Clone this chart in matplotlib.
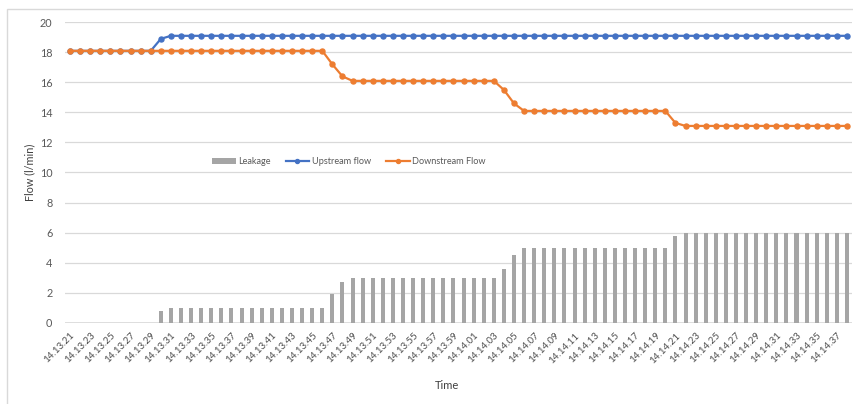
import matplotlib
matplotlib.use("Agg")
import matplotlib.pyplot as plt
from matplotlib.patches import Rectangle

plt.rcParams['font.family'] = ['Lato', 'DejaVu Sans']

# Sample times (one reading per second)
times = [
    "14.13.21", "14.13.22", "14.13.23", "14.13.24", "14.13.25", "14.13.26",
    "14.13.27", "14.13.28", "14.13.29", "14.13.30", "14.13.31", "14.13.32",
    "14.13.33", "14.13.34", "14.13.35", "14.13.36", "14.13.37", "14.13.38",
    "14.13.39", "14.13.40", "14.13.41", "14.13.42", "14.13.43", "14.13.44",
    "14.13.45", "14.13.46", "14.13.47", "14.13.48", "14.13.49", "14.13.50",
    "14.13.51", "14.13.52", "14.13.53", "14.13.54", "14.13.55", "14.13.56",
    "14.13.57", "14.13.58", "14.13.59", "14.14.00", "14.14.01", "14.14.02",
    "14.14.03", "14.14.04", "14.14.05", "14.14.06", "14.14.07", "14.14.08",
    "14.14.09", "14.14.10", "14.14.11", "14.14.12", "14.14.13", "14.14.14",
    "14.14.15", "14.14.16", "14.14.17", "14.14.18", "14.14.19", "14.14.20",
    "14.14.21", "14.14.22", "14.14.23", "14.14.24", "14.14.25", "14.14.26",
    "14.14.27", "14.14.28", "14.14.29", "14.14.30", "14.14.31", "14.14.32",
    "14.14.33", "14.14.34", "14.14.35", "14.14.36", "14.14.37", "14.14.38",
]

upstream = [18.1] * 9 + [18.9] + [19.1] * 68

downstream = ([18.1] * 26 + [17.2, 16.4] + [16.1] * 15 + [15.5, 14.6]
              + [14.1] * 15 + [13.3] + [13.1] * 17)

leakage = ([0.0] * 9 + [0.8] + [1.0] * 16 + [1.9, 2.7] + [3.0] * 15
           + [3.6, 4.5] + [5.0] * 15 + [5.8] + [6.0] * 17)

y_ticks = [0, 2, 4, 6, 8, 10, 12, 14, 16, 18, 20]

text_color = "#595959"
grid_color = "#d9d9d9"

fig = plt.figure(figsize=(8.54, 4.04), dpi=100)
ax = fig.add_axes([65 / 854, 1 - 322.7 / 404, 787 / 854, 300.4 / 404])

x = list(range(len(times)))
bars = ax.bar(x, leakage, width=0.4, color="#a5a5a5", label="Leakage", zorder=2)
up_line, = ax.plot(x, upstream, color="#4472c4", lw=1.6, marker="o", ms=3.6,
                   label="Upstream flow", zorder=3)
down_line, = ax.plot(x, downstream, color="#ed7d31", lw=1.6, marker="o", ms=3.6,
                     label="Downstream Flow", zorder=4)

ax.set_xlim(-0.5, len(times) - 0.5)
ax.set_ylim(0, 20)
ax.set_yticks(y_ticks)
ax.yaxis.grid(True, color=grid_color, lw=0.9, zorder=0)
ax.set_axisbelow(True)
for s in ax.spines.values():
    s.set_visible(False)
ax.axhline(0, color=grid_color, lw=1.2, zorder=1)

ax.set_xticks(x[::2])
ax.set_xticklabels(times[::2], rotation=45, ha="right",
                   rotation_mode="anchor", fontsize=7, color="#4d4d4d")
ax.tick_params(axis="x", length=0, pad=6)
ax.tick_params(axis="y", length=0, pad=9, labelsize=7.8, labelcolor=text_color)

ax.set_ylabel("Flow (l/min)", fontsize=7.8, color="#404040", labelpad=6)
ax.yaxis.set_label_coords(-0.038, 0.5)
ax.set_xlabel("Time", fontsize=8, color="#404040")
ax.xaxis.set_label_coords(0.485, -0.19)

leg = ax.legend(handles=[bars, up_line, down_line],
                loc="center left", bbox_to_anchor=(0.176, 0.535), ncol=3,
                frameon=False, fontsize=6.6, handlelength=2.6,
                columnspacing=1.6, handletextpad=0.3, markerscale=0.8)
for t in leg.get_texts():
    t.set_color(text_color)

# Chart border
fig.patches.append(Rectangle((7 / 854, -0.05), 1.2, 1 - 9 / 404 + 0.05,
                             transform=fig.transFigure, fill=False,
                             edgecolor="#d9d9d9", lw=1.0))

fig.savefig("out.png", dpi=100)
